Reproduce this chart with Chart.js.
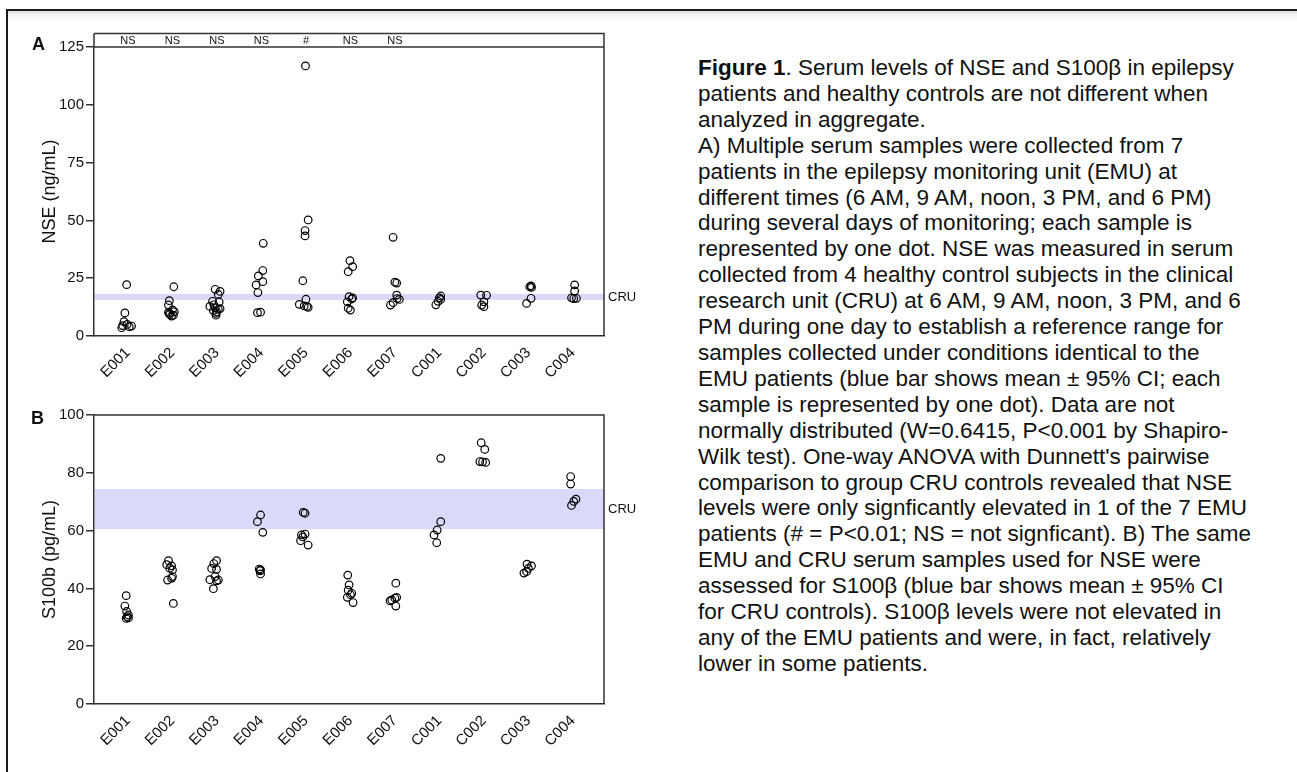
<!DOCTYPE html>
<html><head><meta charset="utf-8">
<script src="https://cdn.jsdelivr.net/npm/chart.js@4.4.1/dist/chart.umd.min.js"></script>
<style>
html,body{margin:0;padding:0;background:#fff;width:1297px;height:772px;overflow:hidden;position:relative;}
#frame{position:absolute;left:6px;top:9px;width:1400px;height:900px;border-top:2px solid #1a1a1a;border-left:2px solid #1a1a1a;background:linear-gradient(to bottom,#dcdcdc 0px,#eeeeee 3px,#f8f8f8 6px,#ffffff 10px);}
#wrapA{position:absolute;left:0;top:0;width:660px;height:390px;}
#wrapB{position:absolute;left:0;top:390px;width:660px;height:382px;}
.plabel{position:absolute;font-family:'Liberation Sans',Arial,sans-serif;font-weight:bold;font-size:18px;line-height:18px;color:#111;}
#caption{position:absolute;left:698px;top:55px;font-family:'Liberation Sans',Arial,sans-serif;font-size:22.5px;line-height:25.9px;color:#111;white-space:nowrap;}
</style></head>
<body>
<div id="frame"></div>
<div id="wrapA"><canvas id="chartA"></canvas></div>
<div id="wrapB"><canvas id="chartB"></canvas></div>
<div class="plabel" style="left:32px;top:35px;">A</div>
<div class="plabel" style="left:31px;top:409px;">B</div>
<div id="caption"><b>Figure 1</b>. Serum levels of NSE and S100β in epilepsy<br>patients and healthy controls are not different when<br>analyzed in aggregate.<br>A) Multiple serum samples were collected from 7<br>patients in the epilepsy monitoring unit (EMU) at<br>different times (6 AM, 9 AM, noon, 3 PM, and 6 PM)<br>during several days of monitoring; each sample is<br>represented by one dot. NSE was measured in serum<br>collected from 4 healthy control subjects in the clinical<br>research unit (CRU) at 6 AM, 9 AM, noon, 3 PM, and 6<br>PM during one day to establish a reference range for<br>samples collected under conditions identical to the<br>EMU patients (blue bar shows mean ± 95% CI; each<br>sample is represented by one dot). Data are not<br>normally distributed (W=0.6415, P&lt;0.001 by Shapiro-<br>Wilk test). One-way ANOVA with Dunnett's pairwise<br>comparison to group CRU controls revealed that NSE<br>levels were only signficantly elevated in 1 of the 7 EMU<br>patients (# = P&lt;0.01; NS = not signficant). B) The same<br>EMU and CRU serum samples used for NSE were<br>assessed for S100β (blue bar shows mean ± 95% CI<br>for CRU controls). S100β levels were not elevated in<br>any of the EMU patients and were, in fact, relatively<br>lower in some patients.</div>
<script>
// ---- data ----
const categories = ['E001','E002','E003','E004','E005','E006','E007','C001','C002','C003','C004'];
const significance = ['NS','NS','NS','NS','#','NS','NS'];

const nseValues = [
  [22.2, 10, 6.2, 4.5, 5.0, 4.3, 3.6, 4.0],
  [21.3, 15.3, 13.4, 11.3, 10.2, 9.3, 8.6, 9.0, 9.8, 10.5],
  [20.2, 19.3, 18, 15, 14.7, 12.8, 12.3, 11.5, 11, 10.5, 9.8, 9, 13.5, 11.8],
  [40.1, 28.3, 26, 23.5, 22.1, 18.8, 10.1, 10.3],
  [116.8, 50.2, 45.6, 43.3, 23.9, 15.9, 13.7, 13, 12.4, 12.8],
  [32.6, 30, 27.8, 17, 16.5, 16, 14.8, 12, 11.2],
  [42.7, 23.3, 22.9, 17.7, 16.2, 15.8, 14.4, 13.4],
  [17.3, 16.5, 15.8, 15, 13.5],
  [17.7, 17.6, 14.8, 13.4, 12.7],
  [21.7, 21.3, 21.0, 16.3, 14.1],
  [22.1, 19.5, 16.5, 16.3, 16.2]
];
const nseJitter = [
  [-0.03,-0.07,-0.09,-0.12,-0.02,0.08,-0.14,0.03],
  [0.03,-0.07,-0.09,0,-0.09,-0.06,-0.02,0.02,-0.07,0.04],
  [-0.04,0.07,0.03,-0.1,0.05,-0.16,-0.04,0.03,-0.08,-0.01,-0.02,-0.02,-0.07,0.07],
  [0.04,0.03,-0.07,0.03,-0.12,-0.08,-0.09,-0.02],
  [-0.01,0.05,-0.02,-0.02,-0.07,0,-0.15,-0.04,0.05,0.02],
  [-0.01,0.05,-0.05,-0.03,0.05,0.03,-0.07,-0.05,0],
  [-0.04,0,0.04,0.04,0.05,0.1,-0.04,-0.1],
  [0.03,0,0.03,-0.03,-0.08],
  [-0.07,0.06,0,-0.05,0],
  [0.06,0.03,0.07,0.06,-0.04],
  [0.04,0.04,-0.03,0.08,0.02]
];
const s100Values = [
  [37.5, 33.9, 32, 30.8, 30.2, 29.6, 29.8],
  [49.6, 48.2, 47.8, 46.4, 47, 44.1, 43.5, 42.9, 34.8],
  [49.6, 48.6, 46.9, 46.6, 44.1, 43, 42.9, 42.6, 39.9],
  [65.4, 63.1, 59.4, 46.7, 46.4, 46.1, 45],
  [66.3, 66, 58.8, 58.5, 57.8, 56.5, 55],
  [44.6, 41.2, 39.4, 38.3, 37.8, 36.9, 35.1],
  [41.8, 36.9, 36.6, 36, 35.7, 33.9],
  [85, 63.1, 60.2, 58.5, 55.8],
  [90.4, 88.1, 83.9, 83.8, 83.6],
  [48.4, 47.8, 46.9, 45.8, 45.3],
  [78.7, 76.1, 70.9, 70.1, 68.7]
];
const s100Jitter = [
  [-0.04,-0.07,-0.03,0.01,-0.02,-0.04,0.01],
  [-0.09,-0.13,-0.02,0,-0.06,0,-0.02,-0.11,0.02],
  [-0.01,-0.07,-0.12,-0.01,-0.04,-0.16,0.03,-0.01,-0.08],
  [-0.02,-0.09,0.03,-0.05,-0.02,-0.03,-0.02],
  [-0.06,-0.02,-0.02,-0.1,-0.07,-0.12,0.05],
  [-0.06,-0.03,-0.05,0.03,0,-0.07,0.06],
  [0.02,0.04,0,-0.07,-0.11,0.02],
  [0.03,0.03,-0.05,-0.12,-0.06],
  [-0.06,0.02,-0.09,-0.03,0.04],
  [-0.03,0.07,0,-0.04,-0.1],
  [-0.05,-0.05,0.07,0.02,-0.03]
];
const cruBandNSE = [15.6, 18.2];
const cruBandS100 = [60.5, 74.4];
const nseTicks = [0, 25, 50, 75, 100, 125];
const s100Ticks = [0, 20, 40, 60, 80, 100];

// ---- helpers ----
const FONT = "'Liberation Sans', Arial, sans-serif";
const AXIS = '#333';

function toPoints(values, jitter) {
  const pts = [];
  values.forEach((grp, i) => grp.forEach((v, j) => pts.push({x: i + jitter[i][j], y: v})));
  return pts;
}

const decor = {
  id: 'decor',
  beforeDatasetsDraw(chart, args, o) {
    const {ctx, chartArea: {left, right}} = chart;
    const y = chart.scales.y;
    const yt = y.getPixelForValue(o.band[1]), yb = y.getPixelForValue(o.band[0]);
    ctx.save();
    ctx.fillStyle = '#d9d9f9';
    ctx.fillRect(left + 1, yt, right - left - 1, yb - yt);
    ctx.restore();
  },
  afterDraw(chart, args, o) {
    const {ctx, chartArea: {left, right, top, bottom}} = chart;
    const y = chart.scales.y, x = chart.scales.x;
    const boxTop = o.headerTop != null ? Math.round(y.getPixelForValue(o.headerTop)) + 0.5 : top;
    ctx.save();
    ctx.strokeStyle = AXIS; ctx.lineWidth = 1.5;
    ctx.beginPath();
    ctx.moveTo(left, boxTop); ctx.lineTo(right, boxTop); ctx.lineTo(right, bottom);
    if (o.headerTop != null) { ctx.moveTo(left, top); ctx.lineTo(right, top); ctx.moveTo(left, boxTop); ctx.lineTo(left, top); }
    ctx.stroke();
    ctx.fillStyle = '#111';
    if (o.labels) {
      ctx.font = '11px ' + FONT; ctx.textAlign = 'center'; ctx.textBaseline = 'middle';
      o.labels.forEach((t, i) => ctx.fillText(t, x.getPixelForValue(i), (boxTop + top) / 2 + 0.5));
    }
    const yt = y.getPixelForValue(o.band[1]), yb = y.getPixelForValue(o.band[0]);
    ctx.font = '13px ' + FONT; ctx.textAlign = 'left'; ctx.textBaseline = 'middle';
    ctx.fillText('CRU', right + 4, (yt + yb) / 2);
    ctx.restore();
  }
};

function makeChart(id, values, jitter, ticks, title, band, padTop, xHeight, extra) {
  return new Chart(document.getElementById(id), {
    type: 'scatter',
    data: { datasets: [{
      data: toPoints(values, jitter),
      pointStyle: 'circle', pointRadius: 3.8, pointHoverRadius: 3.8,
      borderColor: '#000', borderWidth: 1.2, backgroundColor: 'rgba(0,0,0,0)'
    }]},
    options: {
      responsive: true, maintainAspectRatio: false, animation: false, devicePixelRatio: 1,
      layout: { padding: { left: 0, right: 56, top: padTop, bottom: 0 } },
      plugins: { legend: {display: false}, tooltip: {enabled: false},
        decor: Object.assign({band: band}, extra) },
      scales: {
        x: {
          type: 'linear', min: -0.764, max: 10.7,
          afterBuildTicks: s => { s.ticks = categories.map((c, i) => ({value: i})); },
          afterFit: s => { s.height = xHeight; },
          grid: { display: false, drawTicks: false },
          border: { display: true, color: AXIS, width: 1.5 },
          ticks: { autoSkip: false, minRotation: 45, maxRotation: 45, padding: 8,
            color: '#111', font: {family: FONT, size: 15},
            callback: v => categories[v] !== undefined ? categories[v] : '' }
        },
        y: {
          min: ticks[0], max: ticks[ticks.length - 1],
          afterBuildTicks: s => { s.ticks = ticks.map(v => ({value: v})); },
          afterFit: s => { s.width = 94; },
          grid: { drawOnChartArea: false, drawTicks: true, tickLength: 8, color: AXIS, lineWidth: 1.5 },
          border: { display: true, color: AXIS, width: 1.5 },
          ticks: { padding: 2, color: '#111', font: {family: FONT, size: 15} },
          title: { display: true, text: title, color: '#111', font: {family: FONT, size: 18},
            padding: {top: 39, bottom: 0} }
        }
      }
    },
    plugins: [decor]
  });
}

makeChart('chartA', nseValues, nseJitter, nseTicks, 'NSE (ng/mL)', cruBandNSE, 47, 54,
  {headerTop: 131.1, labels: significance});
makeChart('chartB', s100Values, s100Jitter, s100Ticks, 'S100b (pg/mL)', cruBandS100, 25, 68, {});
</script>
</body></html>
